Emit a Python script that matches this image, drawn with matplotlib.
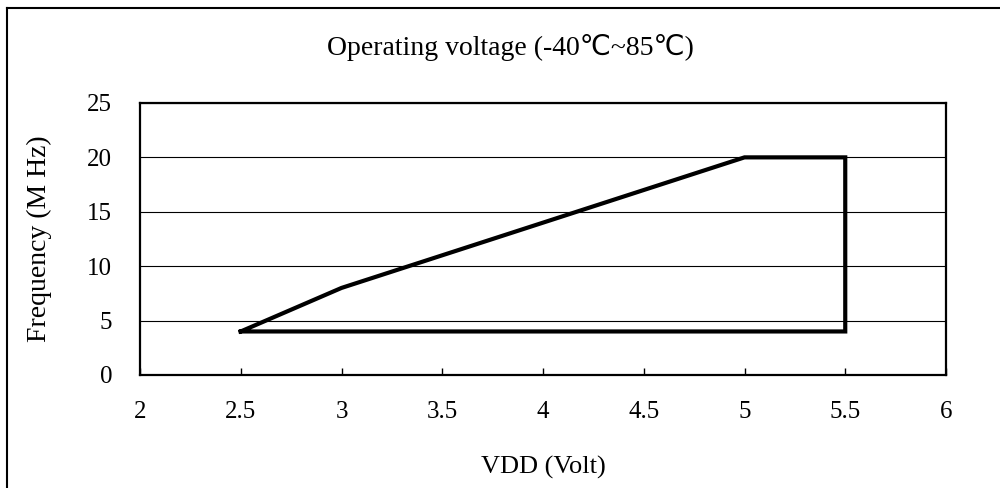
import matplotlib.pyplot as plt
from matplotlib.lines import Line2D

# operating area outline
VDD = [2.5, 3, 5, 5.5, 5.5, 2.5]
FREQ = [4, 8, 20, 20, 4, 4]
XTICKS = [2, 2.5, 3, 3.5, 4, 4.5, 5, 5.5, 6]
YTICKS = [0, 5, 10, 15, 20, 25]

plt.rcParams['font.family'] = ['Liberation Serif', 'DejaVu Sans']

fig = plt.figure(figsize=(10, 4.88), dpi=100)
ax = fig.add_axes([0.14, 0.2316, 0.806, 0.5574])

ax.plot(VDD, FREQ, color='black', lw=3, solid_joinstyle='miter', zorder=3)

ax.set_xlim(2, 6)
ax.set_ylim(0, 25)
ax.set_xticks(XTICKS)
ax.set_xticklabels([f"{v:g}" for v in XTICKS])
ax.set_yticks(YTICKS)
ax.tick_params(axis='x', direction='in', length=5, width=1, labelsize=18, pad=19)
ax.tick_params(axis='y', length=0, labelsize=18, pad=20)
ax.grid(axis='y', color='black', lw=0.8)
ax.set_axisbelow(True)
for s in ax.spines.values():
    s.set_linewidth(1.6)

fig.text(0.51, 0.903, "Operating voltage (-40℃~85℃)", ha='center', va='center', fontsize=20)
fig.text(0.543, 0.043, "VDD (Volt)", ha='center', va='center', fontsize=19)
fig.text(0.039, 0.51, "Frequency (M Hz)", ha='center', va='center', fontsize=20, rotation=90)

# outer chart border
fig.add_artist(Line2D([0.007, 0.007], [0, 0.984], color='black', lw=1.5, transform=fig.transFigure))
fig.add_artist(Line2D([0.007, 1], [0.984, 0.984], color='black', lw=1.5, transform=fig.transFigure))

fig.savefig("out.png", dpi=100)
